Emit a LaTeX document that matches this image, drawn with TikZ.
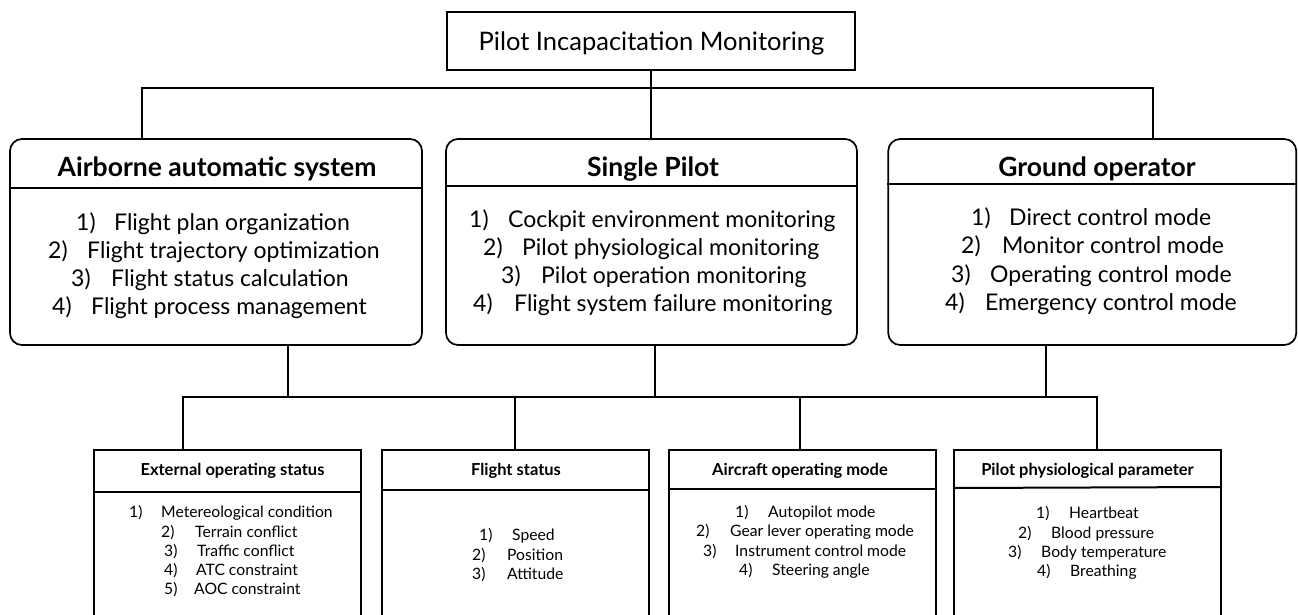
\documentclass[tikz,border=0pt]{standalone}
\usepackage{fontspec}
\setmainfont{Lato}
\usetikzlibrary{calc}
\begin{document}
\begin{tikzpicture}[x=1pt,y=-1pt,
 ln/.style={line width=1.7pt, draw=black},
 topbox/.style={ln, minimum width=408pt, minimum height=58pt, inner sep=0pt},
 midbox/.style={ln, rounded corners=12pt, minimum height=206pt, inner sep=0pt},
 lowbox/.style={draw=black, line width=2pt, minimum width=267pt, minimum height=191pt, anchor=north, inner sep=0pt},
 midtitle/.style={font=\fontsize{26.5}{30}\bfseries\selectfont, anchor=base, inner sep=0pt},
 midlist/.style={font=\fontsize{23}{27}\selectfont, anchor=base west, inner sep=0pt},
 lowtitle/.style={font=\fontsize{16.5}{20}\bfseries\selectfont, anchor=base, inner sep=0pt},
 lowlist/.style={font=\fontsize{15.7}{19}\selectfont, anchor=base west, inner sep=0pt},
]
\useasboundingbox (0,0) rectangle (1298,614);
\clip (0,0) rectangle (1298,614);
\fill[white] (0,0) rectangle (1298,614);

% root
\node[topbox] (root) at (651,41) {};
\node[font=\fontsize{25.5}{30}\selectfont, anchor=base, inner sep=0pt] (rootT) at (651.5,50) {Pilot Incapacitation Monitoring};

% middle boxes
\node[midbox, minimum width=412pt] (air) at (216,242) {};
\node[midbox, minimum width=411pt] (sgl) at (651.5,242) {};
\node[midbox, minimum width=408pt] (gnd) at (1092.25,242) {};

\draw[ln] (air.west |- 0,188) -- (air.east |- 0,188);
\draw[ln] (sgl.west |- 0,186) -- (sgl.east |- 0,186);
\draw[ln] (gnd.west |- 0,184) -- (gnd.east |- 0,184);

\node[midtitle] (airT) at (217,176.5) {Airborne automatic system};
\node[midtitle] (sglT) at (653,176.5) {Single Pilot};
\node[midtitle] (gndT) at (1097,176.5) {Ground operator};

\node[midlist] (a1) at (76,230) {\makebox[38pt][l]{1)}Flight plan organization};
\node[midlist] (a2) at (48,258) {\makebox[39pt][l]{2)}Flight trajectory optimization};
\node[midlist] (a3) at (71,286) {\makebox[40pt][l]{3)}Flight status calculation};
\node[midlist] (a4) at (52,314) {\makebox[39pt][l]{4)}Flight process management};

\node[midlist] (s1) at (469,227) {\makebox[39pt][l]{1)}Cockpit environment monitoring};
\node[midlist] (s2) at (483,255) {\makebox[39pt][l]{2)}Pilot physiological monitoring};
\node[midlist] (s3) at (501,283) {\makebox[40pt][l]{3)}Pilot operation monitoring};
\node[midlist] (s4) at (473,311) {\makebox[41pt][l]{4)}Flight system failure monitoring};

\node[midlist] (g1) at (971,225) {\makebox[38pt][l]{1)}Direct control mode};
\node[midlist] (g2) at (961,253) {\makebox[41pt][l]{2)}Monitor control mode};
\node[midlist] (g3) at (951,282) {\makebox[39pt][l]{3)}Operating control mode};
\node[midlist] (g4) at (945,310) {\makebox[40pt][l]{4)}Emergency control mode};

% top connectors
\coordinate (busTop) at (0,88);
\coordinate (airIn) at ($(air.north west)+(133,0)$);
\coordinate (sglIn) at ($(sgl.north)+(-0.5,0)$);
\coordinate (gndIn) at ($(gnd.north west)+(265.75,0)$);
\draw[ln] (root.south) -- (root.south |- busTop);
\draw[ln] (airIn) -- (airIn |- busTop) -- (gndIn |- busTop) -- (gndIn);
\draw[ln] (sglIn) -- (sglIn |- busTop);

% lower boxes
\node[lowbox] (ext) at (227.5,449) {};
\node[lowbox] (fst) at (515.5,449) {};
\node[lowbox] (acm) at (802.5,449) {};
\node[lowbox] (pph) at (1087.5,449) {};

\draw[line width=2pt] (ext.west |- 0,492) -- (ext.east |- 0,492);
\draw[line width=2pt] (fst.west |- 0,490) -- (fst.east |- 0,490);
\draw[line width=2pt] (acm.west |- 0,489) -- (acm.east |- 0,489);
\draw[line width=2pt] (pph.west |- 0,488) -- (pph.east |- 0,487);

\node[lowtitle] (extT) at (232.5,475) {External operating status};
\node[lowtitle] (fstT) at (516,475) {Flight status};
\node[lowtitle] (acmT) at (800,475) {Aircraft operating mode};
\node[lowtitle] (pphT) at (1087.5,475) {Pilot physiological parameter};

\node[lowlist] (e1) at (129,517.5) {\makebox[32pt][l]{1)}Metereological condition};
\node[lowlist] (e2) at (161,537.5) {\makebox[34pt][l]{2)}Terrain conflict};
\node[lowlist] (e3) at (164,556.5) {\makebox[33pt][l]{3)}Traffic conflict};
\node[lowlist] (e4) at (164,575.5) {\makebox[32pt][l]{4)}ATC constraint};
\node[lowlist] (e5) at (164,594.5) {\makebox[30pt][l]{5)}AOC constraint};

\node[lowlist] (f1) at (479,540.5) {\makebox[33pt][l]{1)}Speed};
\node[lowlist] (f2) at (472,560.5) {\makebox[35pt][l]{2)}Position};
\node[lowlist] (f3) at (472,579.5) {\makebox[35pt][l]{3)}Attitude};

\node[lowlist] (m1) at (735,517.5) {\makebox[33pt][l]{1)}Autopilot mode};
\node[lowlist] (m2) at (696,536.5) {\makebox[34pt][l]{2)}Gear lever operating mode};
\node[lowlist] (m3) at (703,556.5) {\makebox[32pt][l]{3)}Instrument control mode};
\node[lowlist] (m4) at (739,575.5) {\makebox[33pt][l]{4)}Steering angle};

\node[lowlist] (p1) at (1036,518.5) {\makebox[33pt][l]{1)}Heartbeat};
\node[lowlist] (p2) at (1018,538.5) {\makebox[33pt][l]{2)}Blood pressure};
\node[lowlist] (p3) at (1008,557.5) {\makebox[33pt][l]{3)}Body temperature};
\node[lowlist] (p4) at (1037,576.5) {\makebox[33pt][l]{4)}Breathing};

% lower connectors
\coordinate (busLow) at (0,397);
\coordinate (airOut) at ($(air.south west)+(279,0)$);
\coordinate (sglOut) at ($(sgl.south)+(3.5,0)$);
\coordinate (gndOut) at ($(gnd.south west)+(158.75,0)$);
\coordinate (extIn) at ($(ext.north west)+(90,0)$);
\coordinate (fstIn) at ($(fst.north)+(-0.5,0)$);
\coordinate (acmIn) at ($(acm.north)+(-2.5,0)$);
\coordinate (pphIn) at ($(pph.north)+(9.5,0)$);
\draw[ln] (airOut) -- (airOut |- busLow);
\draw[ln] (sglOut) -- (sglOut |- busLow);
\draw[ln] (gndOut) -- (gndOut |- busLow);
\draw[ln] (extIn) -- (extIn |- busLow) -- (pphIn |- busLow) -- (pphIn);
\draw[ln] (fstIn) -- (fstIn |- busLow);
\draw[ln] (acmIn) -- (acmIn |- busLow);
\end{tikzpicture}
\end{document}
